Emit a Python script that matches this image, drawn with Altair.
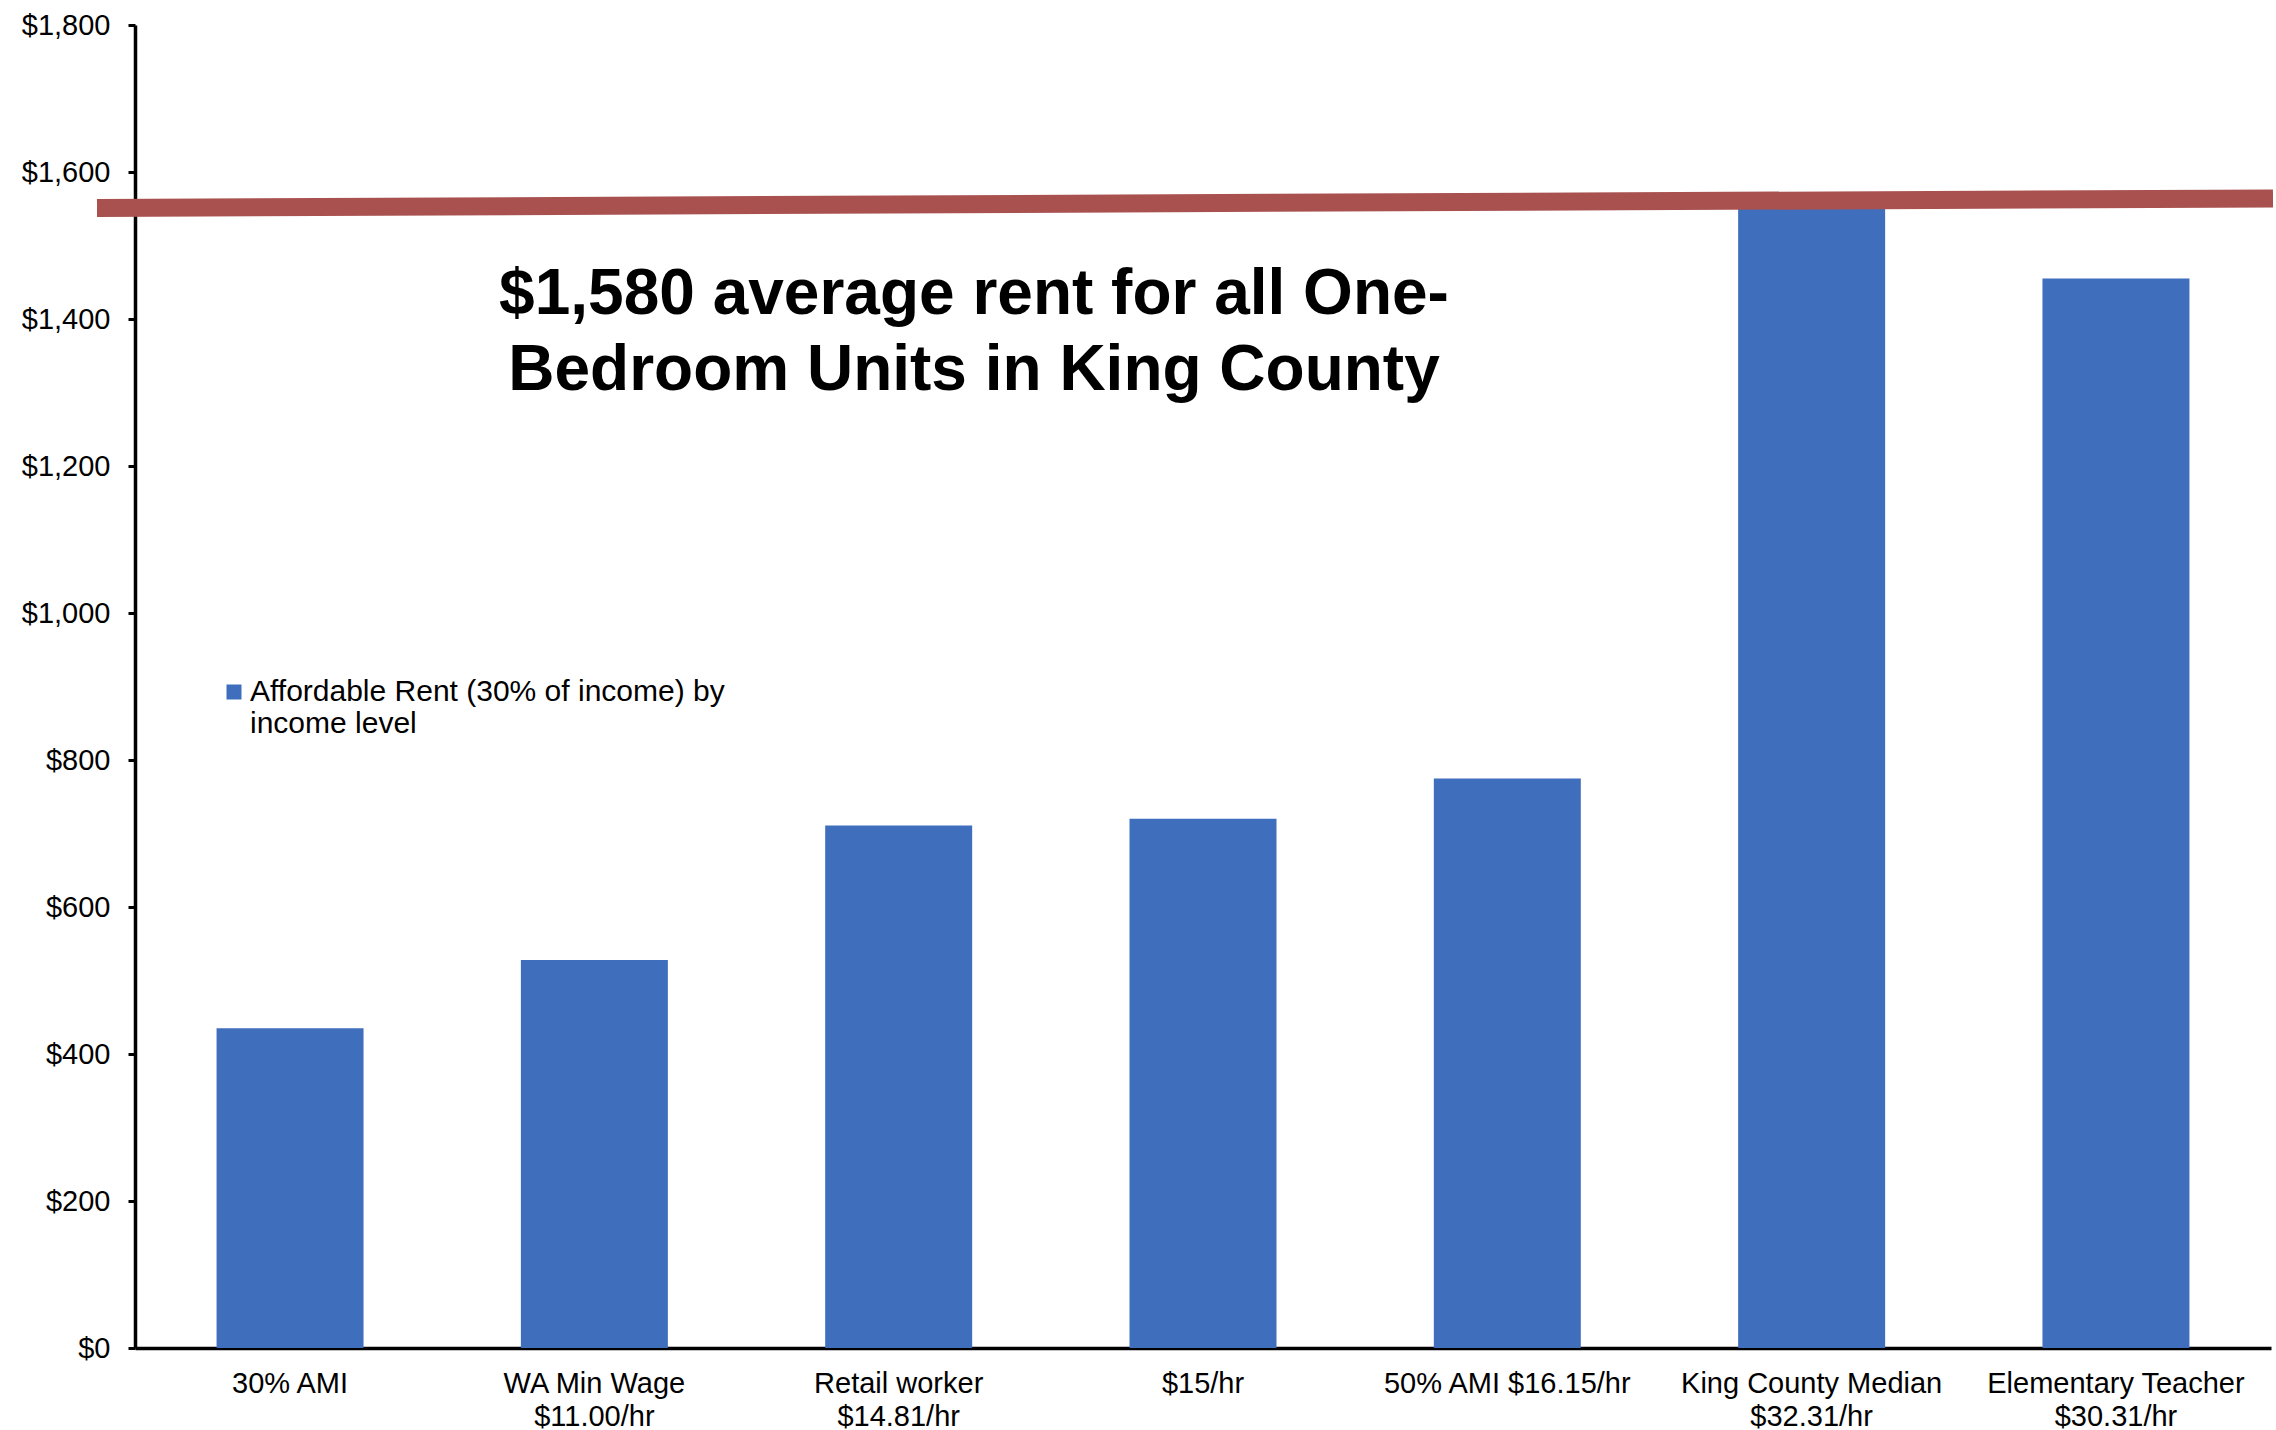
import altair as alt
import pandas as pd

# ---- data ----
CATEGORIES = [
    "30% AMI",
    "WA Min Wage|$11.00/hr",
    "Retail worker|$14.81/hr",
    "$15/hr",
    "50% AMI $16.15/hr",
    "King County Median|$32.31/hr",
    "Elementary Teacher|$30.31/hr",
]
AFFORDABLE_RENT = [435, 528, 711, 720, 775, 1551, 1455]
SERIES_NAME = "Affordable Rent (30% of income) by|income level"
RENT_LINE_Y = [1551, 1564]          # thick red reference line (left end, right end)
ANNOTATION = ["$1,580 average rent for all One-", "Bedroom Units in King County"]
Y_TICKS = [0, 200, 400, 600, 800, 1000, 1200, 1400, 1600, 1800]

BAR_COLOR = "#3F6EBD"
LINE_COLOR = "#A8514F"
FONT = "Liberation Sans"

W, H = 2136, 1323

bars_df = pd.DataFrame({
    "category": CATEGORIES,
    "rent": AFFORDABLE_RENT,
    "series": [SERIES_NAME] * len(CATEGORIES),
})
line_df = pd.DataFrame({"y": [RENT_LINE_Y[0]], "y2": [RENT_LINE_Y[1]]})
text_df = pd.DataFrame({"text": ["\n".join(ANNOTATION)]})

x_enc = alt.X(
    "category:N",
    sort=CATEGORIES,
    scale=alt.Scale(paddingInner=0.517, paddingOuter=0.268),
    axis=alt.Axis(
        title=None,
        labelAngle=0,
        labelExpr="split(datum.label, '|')",
        labelFont=FONT,
        labelFontSize=29,
        labelLineHeight=33,
        labelColor="#000000",
        labelPadding=21,
        labelLimit=1000,
        ticks=False,
        tickSize=0,
        domainColor="#000000",
        domainWidth=3.5,
        grid=False,
    ),
)

y_scale = alt.Scale(domain=[0, 1800], nice=False, zero=True)
y_enc = alt.Y(
    "rent:Q",
    scale=y_scale,
    axis=alt.Axis(
        title=None,
        values=Y_TICKS,
        format="$,.0f",
        labelFont=FONT,
        labelFontSize=29,
        labelColor="#000000",
        labelPadding=18,
        tickSize=7,
        tickWidth=3,
        tickColor="#000000",
        domainColor="#000000",
        domainWidth=3.5,
        grid=False,
    ),
)

bars = alt.Chart(bars_df).mark_bar().encode(
    x=x_enc,
    y=y_enc,
    color=alt.Color(
        "series:N",
        scale=alt.Scale(range=[BAR_COLOR]),
        legend=alt.Legend(
            title=None,
            orient="none",
            legendX=84,
            legendY=652,
            symbolType="square",
            symbolSize=225,
            symbolStrokeWidth=0,
            labelFont=FONT,
            labelFontSize=30,
            labelColor="#000000",
            labelLimit=1000,
            labelOffset=1,
            labelBaseline="middle",
            labelExpr="split(datum.label, '|')",
        ),
    ),
)

rule = alt.Chart(line_df).mark_rule(
    color=LINE_COLOR, strokeWidth=18, strokeCap="butt", clip=False
).encode(
    x=alt.value(-38),
    x2=alt.value(W + 2),
    y=alt.Y("y:Q", scale=y_scale),
    y2="y2:Q",
)

annot = alt.Chart(text_df).mark_text(
    font=FONT,
    fontSize=64,
    fontWeight="bold",
    color="#000000",
    align="center",
    baseline="top",
    lineBreak="\n",
    lineHeight=76,
).encode(
    x=alt.value(839),
    y=alt.value(238),
    text="text:N",
)

chart = (
    alt.layer(bars, rule, annot)
    .properties(
        width=W,
        height=H,
        autosize=alt.AutoSizeParams(type="none"),
        padding={"left": 135, "top": 25, "right": 5, "bottom": 82},
        background="#ffffff",
    )
    .configure_view(stroke=None)
)

chart.save("out.html", embed_options={"renderer": "svg", "actions": False})
